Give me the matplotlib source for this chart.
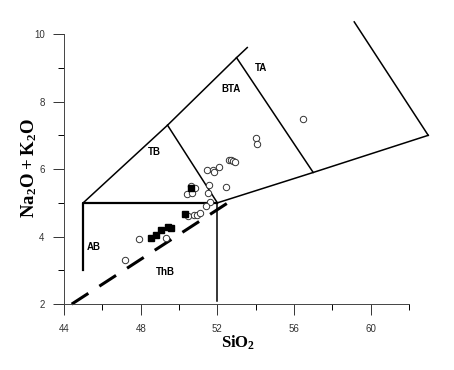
import matplotlib
matplotlib.use("Agg")
import matplotlib.pyplot as plt
from matplotlib.ticker import MultipleLocator

plt.rcParams['font.family'] = ['Liberation Sans', 'DejaVu Sans']
plt.rcParams['mathtext.fontset'] = 'custom'
plt.rcParams['mathtext.rm'] = 'Liberation Serif'
plt.rcParams['mathtext.bf'] = 'Liberation Serif:bold'

# open circles (SiO2, Na2O+K2O)
circle_sio2 = [56.47, 54.03, 54.09, 52.59, 52.73, 52.83, 52.90, 52.07, 51.45,
               51.78, 51.83, 52.45, 51.57, 51.51, 50.60, 50.82, 50.40, 50.70,
               51.62, 51.40, 50.45, 50.80, 50.92, 51.10, 49.32, 47.92, 47.16]
circle_alk = [7.49, 6.93, 6.74, 6.27, 6.26, 6.23, 6.22, 6.05, 5.98,
              5.96, 5.90, 5.48, 5.53, 5.29, 5.50, 5.44, 5.25, 5.29,
              5.02, 4.92, 4.62, 4.64, 4.64, 4.69, 3.95, 3.93, 3.32]

# filled squares
square_sio2 = [48.52, 48.79, 49.05, 49.42, 49.57, 50.30, 50.63]
square_alk = [3.97, 4.05, 4.19, 4.29, 4.26, 4.67, 5.44]

# field boundaries
thin_lines = [
    ([45, 49.4, 53, 53.56], [5, 7.3, 9.3, 9.6]),
    ([49.4, 52], [7.3, 5]),
    ([53, 57], [9.3, 5.9]),
    ([52, 57, 63], [5, 5.9, 7]),
    ([59.14, 63], [10.36, 7]),
]
box_sio2 = [45, 45, 52]
box_alk = [3, 5, 5]
div_sio2 = [52, 52]
div_alk = [5, 2.1]
dash_sio2 = [44.4, 52.6]
dash_alk = [2.0, 5.02]

field_names = ['TA', 'BTA', 'TB', 'AB', 'ThB']
field_x = [54.27, 52.7, 48.71, 45.55, 49.3]
field_y = [9.0, 8.36, 6.5, 3.7, 2.94]

fig = plt.figure(figsize=(4.54, 3.70), dpi=100)
ax = fig.add_axes([0.141, 0.178, 0.760, 0.730])

for xs, ys in thin_lines:
    ax.plot(xs, ys, color='black', lw=1.1, clip_on=False)
ax.plot(box_sio2, box_alk, color='black', lw=1.6, clip_on=False)
ax.plot(div_sio2, div_alk, color='black', lw=1.1, clip_on=False)
ax.plot(dash_sio2, dash_alk, color='black', lw=2.2,
        linestyle=(0, (6.5, 4.3)), clip_on=False)

ax.plot(circle_sio2, circle_alk, 'o', mfc='white', mec='#333333',
        ms=4.6, mew=0.7, linestyle='none', zorder=3)
ax.plot(square_sio2, square_alk, 's', mfc='black', mec='black',
        ms=4.4, linestyle='none', zorder=4)

for name, x, y in zip(field_names, field_x, field_y):
    ax.text(x, y, name, fontsize=7, fontweight='bold', ha='center', va='center')

ax.set_xlim(44, 62)
ax.set_ylim(2, 10)
ax.xaxis.set_major_locator(MultipleLocator(4))
ax.xaxis.set_minor_locator(MultipleLocator(2))
ax.yaxis.set_major_locator(MultipleLocator(2))
ax.yaxis.set_minor_locator(MultipleLocator(1))
ax.tick_params(which='major', direction='out', length=8, width=0.7, labelsize=7, pad=6)
ax.tick_params(which='minor', direction='out', length=4.5, width=0.7)
ax.spines['top'].set_visible(False)
ax.spines['right'].set_visible(False)
for s in ('left', 'bottom'):
    ax.spines[s].set_linewidth(0.7)
    ax.spines[s].set_color('#444444')
ax.tick_params(colors='#333333')

ax.set_xlabel(r'$\mathbf{SiO_2}$', fontsize=12, va='center')
ax.xaxis.set_label_coords(0.506, -0.144)
ax.set_ylabel(r'$\mathbf{Na_2O + K_2O}$', fontsize=13.5, va='center')
ax.yaxis.set_label_coords(-0.101, 0.504)

fig.savefig('out.png', dpi=100)
